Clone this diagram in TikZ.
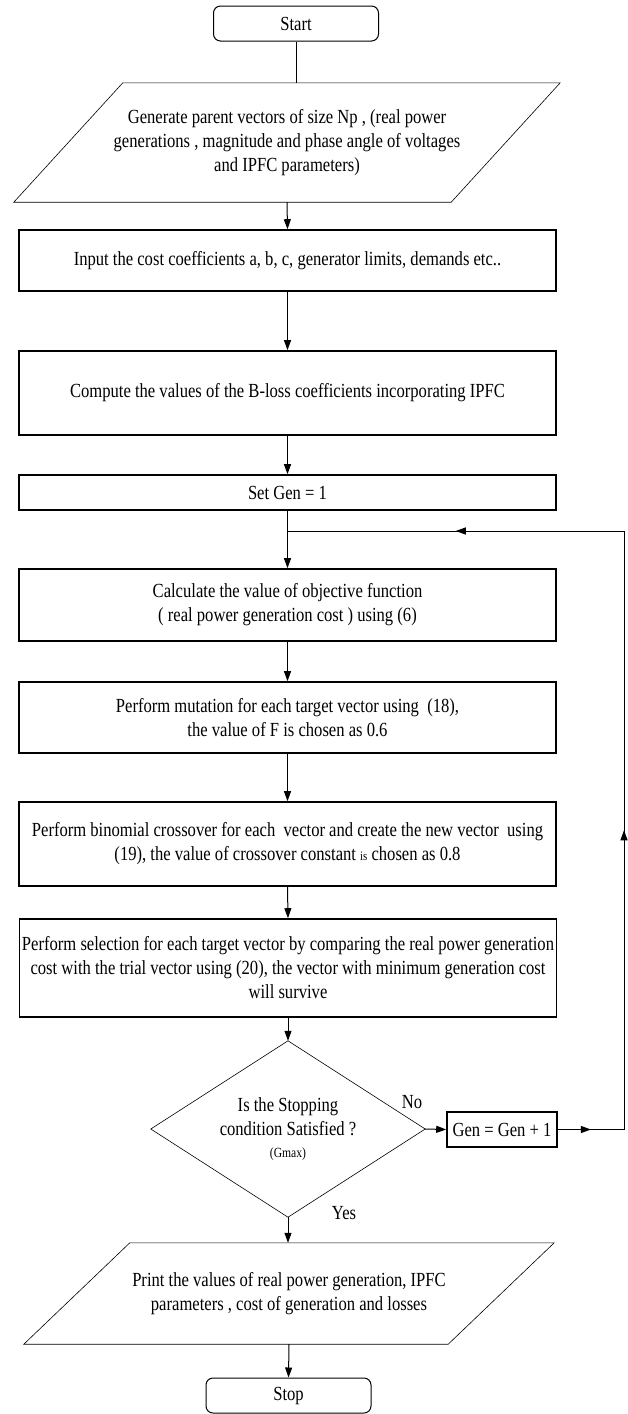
\documentclass[tikz,border=0pt]{standalone}
\usepackage{fontspec}
\setmainfont{Liberation Serif}[FakeStretch=0.83]
\usetikzlibrary{arrows.meta,calc,decorations.markings}
\begin{document}
\begin{tikzpicture}[x=1pt,y=-1pt,
  every node/.style={font=\fontsize{20}{24}\selectfont, align=center, inner sep=0pt},
  procbox/.style={draw, line width=1.6pt, minimum width=537pt},
  termbox/.style={draw, line width=1pt, rounded corners=7pt, minimum width=165pt, minimum height=35pt},
  thinshape/.style={line width=0.6pt},
  conn/.style={line width=1pt},
  arr/.style={conn, -{Triangle[length=10pt,width=7pt]}},
  midarrow/.style={conn, postaction={decorate}, decoration={markings, mark=at position 0.5 with {\arrow{Triangle[length=10pt,width=7pt]}}}}
]
\useasboundingbox (0,0) rectangle (628,1414);

% nodes
\node[termbox] (start) at (296,23.5) {Start};
\node[minimum width=546pt, minimum height=119pt] (p1) at (287,142.5)
  {Generate parent vectors of size Np , (real power\\ generations , magnitude and phase angle of voltages\\ and IPFC parameters)};
\node[procbox, minimum height=61pt] (input) at (287.5,260.5)
  {Input the cost coefficients a, b, c, generator limits, demands etc..};
\node[procbox, minimum height=84pt] (bloss) at (287.5,393)
  {Compute the values of the B-loss coefficients incorporating IPFC};
\node[procbox, minimum height=35pt] (setgen) at (287.5,492.5) {Set Gen = 1};
\node[procbox, minimum height=72pt] (calc) at (287.5,605)
  {Calculate the value of objective function\\ ( real power generation cost ) using (6)};
\node[procbox, minimum height=71pt] (mut) at (287.5,717.5)
  {Perform mutation for each target vector using\ \ (18),\\ the value of F is chosen as 0.6};
\node[procbox, minimum height=84pt] (cross) at (287.5,844)
  {Perform binomial crossover for each\ \ vector and create the new vector\ \ using\\ (19), the value of crossover constant {\fontsize{13}{24}\selectfont is} chosen as 0.8};
\node[procbox, minimum height=98pt] (sel) at (288,968)
  {Perform selection for each target vector by comparing the real power generation\\ cost with the trial vector using (20), the vector with minimum generation cost\\ will survive};
\node[minimum width=274pt, minimum height=176pt] (dia) at (288,1129)
  {Is the Stopping\\ condition Satisfied ?\\[-2pt] {\fontsize{14}{18}\selectfont (Gmax)}};
\node[draw, line width=1.6pt, minimum width=110pt, minimum height=35pt] (gen) at (502,1129.5) {Gen = Gen + 1};
\node[minimum width=530pt, minimum height=101pt] (p2) at (289,1293.5)
  {Print the values of real power generation, IPFC\\ parameters , cost of generation and losses};
\node[termbox] (stop) at (288.5,1395.5) {Stop};

\node (no) at (412,1102) {No};
\node (yes) at (344,1213) {Yes};

% shapes drawn from node anchors
\draw[thinshape] ($(p1.north west)+(109,0)$) -- (p1.north east) -- ($(p1.south east)+(-109,0)$) -- (p1.south west) -- cycle;
\draw[thinshape] (dia.north) -- (dia.east) -- (dia.south) -- (dia.west) -- cycle;
\draw[thinshape] ($(p2.north west)+(106,0)$) -- (p2.north east) -- ($(p2.south east)+(-106,0)$) -- (p2.south west) -- cycle;

% connectors
\draw[conn] (start.south) -- (start.south |- p1.north);
\draw[arr] (p1.south) -- (input.north);
\draw[arr] (input.south) -- (bloss.north);
\draw[arr] (bloss.south) -- (setgen.north);
\draw[arr] (setgen.south) -- (calc.north);
\draw[arr] (calc.south) -- (mut.north);
\draw[arr] (mut.south) -- (cross.north);
\draw[arr] (cross.south) -- (sel.north);
\draw[arr] (sel.south) -- (dia.north);
\draw[arr] (dia.east) -- (gen.west);
\draw[arr] (dia.south) -- (dia.south |- p2.north);
\draw[arr] (p2.south) -- (stop.north);

% feedback loop
\coordinate (loopR) at (624,1129.5);
\coordinate (loopT) at (624,531);
\coordinate (junc) at (287.5,531);
\draw[midarrow] (gen.east) -- (loopR);
\draw[midarrow] (loopR) -- (loopT);
\draw[midarrow] (loopT) -- (junc);
\end{tikzpicture}
\end{document}
